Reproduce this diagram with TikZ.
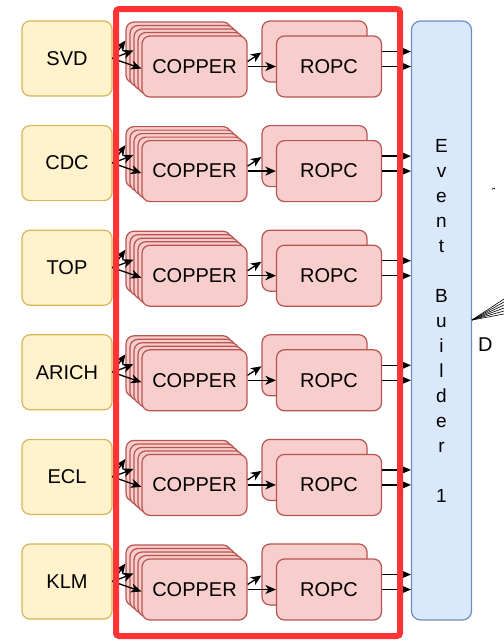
\documentclass[tikz,border=0pt]{standalone}
\usepackage{fontspec}
\setmainfont{Liberation Sans}
\usetikzlibrary{arrows.meta}
\definecolor{detfill}{HTML}{FFF2CC}
\definecolor{detline}{HTML}{D6B656}
\definecolor{rofill}{HTML}{F8CECC}
\definecolor{roline}{HTML}{B85450}
\definecolor{ebfill}{HTML}{DAE8FC}
\definecolor{ebline}{HTML}{6C8EBF}
\definecolor{framered}{HTML}{FF3333}

\begin{document}
\begin{tikzpicture}[x=1pt, y=-1pt, font=\fontsize{20}{24}\selectfont,
  det/.style={draw=detline, fill=detfill, line width=1.2pt, rounded corners=8pt,
    minimum width=90pt, minimum height=75pt, inner sep=0pt},
  rbox/.style={draw=roline, fill=rofill, line width=1.2pt, rounded corners=8pt,
    minimum width=105pt, minimum height=61pt, inner sep=0pt},
  ebox/.style={draw=ebline, fill=ebfill, line width=1.2pt, rounded corners=9pt,
    minimum width=60pt, minimum height=599pt, inner sep=0pt, align=center,
    font=\fontsize{19}{25}\selectfont},
  flow/.style={-{Stealth[length=10.5pt,width=9pt,inset=3pt]}, line width=1.3pt},
  frame/.style={draw=framered, line width=6pt, rounded corners=3pt}]

\useasboundingbox (0,0) rectangle (504,641);
\clip (0,0) rectangle (504,641);

% ===== Event builder column =====
\node[ebox] (eb) at (441.5,320.5)
  {E\\v\\e\\n\\t\\[25pt]B\\u\\i\\l\\d\\e\\r\\[25pt]1};

% ===== One readout chain per sub-detector =====
\foreach \d [count=\i from 0] in {SVD,CDC,TOP,ARICH,ECL,KLM} {
  \pgfmathsetmacro\yc{58.5+104.6*\i}
  \begin{scope}[shift={(0,\yc)}]
    \node[det] (det\i) at (67,0) {\d};

    % stacked COPPER boards, back to front
    \foreach \k in {4,3,2,1}
      \node[rbox] (cu\i-\k) at ({194.5-4*\k},{8-3.5*\k}) {};
    \node[rbox] (cu\i-0) at (194.5,8) {COPPER};

    % two ROPCs, the back one feeds the builder behind the front one
    \node[rbox] (rb\i) at (314.5,-7) {};
    \draw[flow] (rb\i.east) -- (rb\i.east -| eb.west);
    \node[rbox] (rf\i) at (329,8) {ROPC};
    \draw[flow] (rf\i.east) -- (rf\i.east -| eb.west);

    \draw[flow] ([yshift=5pt]cu\i-0.east) -- ([yshift=-1pt]rb\i.west);
    \draw[flow] (cu\i-0.east) -- (rf\i.west);

    % fan-out to the boards
    \draw[flow] (det\i.east) -- ([yshift=12pt]cu\i-4.west);
    \draw[flow] (det\i.east) -- ([yshift=9pt]cu\i-2.west);
    \draw[flow] (det\i.east) -- ([yshift=-2pt]cu\i-0.west);
  \end{scope}
}

% ===== Red frame round the readout =====
\draw[frame] (116,9) rectangle (400,636);

% ===== Links leaving on the right =====
\coordinate (fan) at (472,320);
\foreach \t in {299,302,...,314}
  \draw[line width=0.6pt] (fan) -- (504,\t);
\draw[line width=0.8pt] (492,189) -- (495,188.5);
\node[anchor=west, inner sep=0pt] (dlab) at (478,345) {D};

\end{tikzpicture}
\end{document}
